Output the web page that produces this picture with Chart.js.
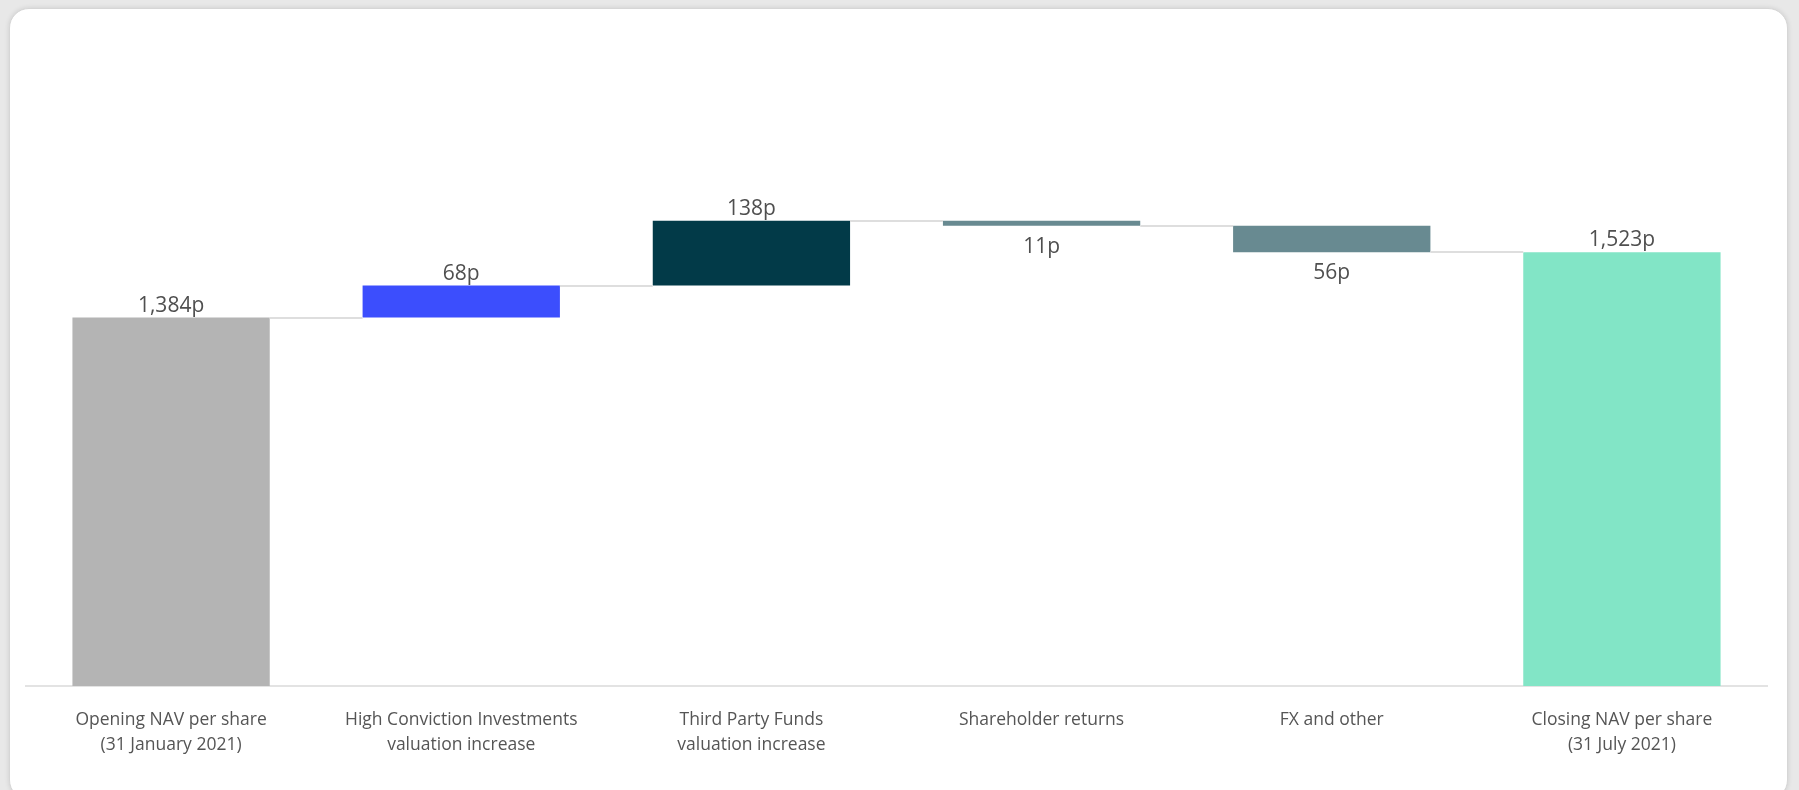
<!DOCTYPE html>
<html>
<head>
<meta charset="utf-8">
<script src="https://cdn.jsdelivr.net/npm/chart.js@4/dist/chart.umd.min.js"></script>
<style>
  html, body { margin: 0; padding: 0; width: 1799px; height: 790px; overflow: hidden; background: #e8e8e8; }
  #card { position: absolute; left: 9px; top: 8px; width: 1777px; height: 790px; background: #fff;
          border: 1px solid #d6d6d6; border-radius: 20px; box-shadow: 0 0 5px rgba(0,0,0,0.12); }
  #wrap { position: absolute; left: 0; top: 0; width: 1799px; height: 790px; }
</style>
</head>
<body>
<div id="card"></div>
<div id="wrap"><canvas id="c" width="1799" height="790"></canvas></div>
<script>
// ---- data ----
const categories = [
  ["Opening NAV per share", "(31 January 2021)"],
  ["High Conviction Investments", "valuation increase"],
  ["Third Party Funds", "valuation increase"],
  ["Shareholder returns"],
  ["FX and other"],
  ["Closing NAV per share", "(31 July 2021)"]
];
const values = [1384, 68, 138, -11, -56, 1523];
const isTotal = [true, false, false, false, false, true];
const barColors = ["#b4b4b4", "#3c4efd", "#023a48", "#688a91", "#688a91", "#82e5c6"];
const yMin = 600;
const yMax = 1800;

// build floating ranges
const ranges = [];
let running = 0;
for (let i = 0; i < values.length; i++) {
  if (isTotal[i]) { ranges.push([yMin, values[i]]); running = values[i]; }
  else { ranges.push([running, running + values[i]]); running += values[i]; }
}
const levels = ranges.map(r => r[1]);

const fmt = v => Math.abs(v).toLocaleString('en-GB') + 'p';

const overlay = {
  id: 'overlay',
  afterDatasetsDraw(chart) {
    const ctx = chart.ctx;
    const meta = chart.getDatasetMeta(0);
    const y = chart.scales.y;
    ctx.save();
    // connectors
    ctx.strokeStyle = '#dedede';
    ctx.lineWidth = 2;
    for (let i = 0; i < meta.data.length - 1; i++) {
      const a = meta.data[i], b = meta.data[i + 1];
      const yy = Math.round(y.getPixelForValue(levels[i]));
      ctx.beginPath();
      ctx.moveTo(a.x + a.width / 2, yy);
      ctx.lineTo(b.x - b.width / 2, yy);
      ctx.stroke();
    }
    // value labels
    ctx.font = '21px "Open Sans", "Segoe UI", sans-serif';
    ctx.fillStyle = '#4f4f4f';
    ctx.textAlign = 'center';
    ctx.textBaseline = 'alphabetic';
    meta.data.forEach((el, i) => {
      const v = values[i];
      const top = Math.min(el.y, el.base);
      const bot = Math.max(el.y, el.base);
      if (v >= 0) ctx.fillText(fmt(v), el.x, top - 6);
      else ctx.fillText(fmt(v), el.x, bot + 27);
    });
    ctx.restore();
  }
};

new Chart(document.getElementById('c'), {
  type: 'bar',
  data: {
    labels: categories,
    datasets: [{
      data: ranges,
      backgroundColor: barColors,
      borderWidth: 0,
      borderSkipped: false,
      categoryPercentage: 1,
      barPercentage: 0.68
    }]
  },
  options: {
    responsive: false,
    animation: false,
    events: [],
    layout: { padding: { left: 26, right: 32, top: 122, bottom: 10 } },
    plugins: { legend: { display: false }, tooltip: { enabled: false } },
    scales: {
      x: {
        grid: { display: false, drawTicks: false },
        border: { display: true, color: '#e3e3e3', width: 2 },
        ticks: {
          padding: 22,
          color: '#555555',
          maxRotation: 0,
          autoSkip: false,
          font: { family: '"Open Sans", "Segoe UI", sans-serif', size: 17.5, lineHeight: 1.43 }
        }
      },
      y: { display: false, min: yMin, max: yMax }
    }
  },
  plugins: [overlay]
});
</script>
</body>
</html>
